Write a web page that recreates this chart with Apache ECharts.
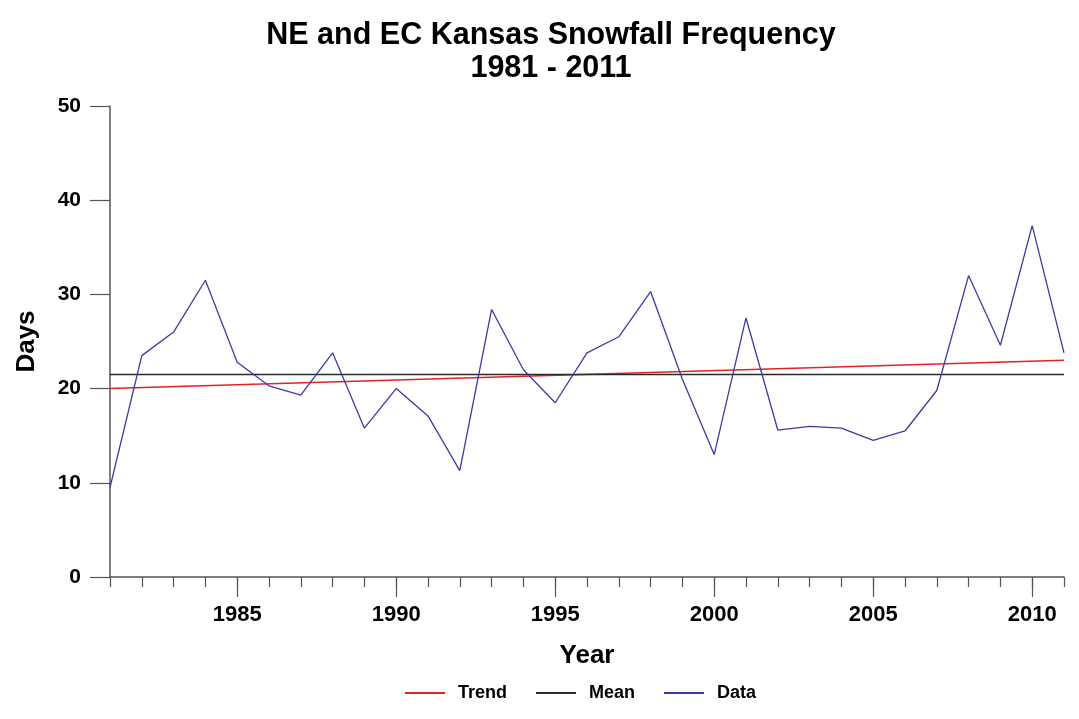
<!DOCTYPE html>
<html>
<head>
<meta charset="utf-8">
<script src="https://cdn.jsdelivr.net/npm/echarts@6/dist/echarts.min.js"></script>
<style>html,body{margin:0;padding:0;background:#fff}#c{width:1079px;height:719px}</style>
</head>
<body>
<div id="c"></div>
<script>
const years = ['1981','1982','1983','1984','1985','1986','1987','1988','1989','1990','1991','1992','1993','1994','1995','1996','1997','1998','1999','2000','2001','2002','2003','2004','2005','2006','2007','2008','2009','2010','2011'];
const snowDays = [9.5,23.5,26,31.5,22.8,20.3,19.3,23.8,15.8,20,17.1,11.3,28.4,22,18.5,23.8,25.5,30.3,21,13,27.5,15.6,16,15.8,14.5,15.5,19.8,32,24.6,37.3,23.8];
const meanValue = 21.5;
const trendStart = 20.0;
const trendEnd = 23.0;
const yTicks = [0,10,20,30,40,50];
const titleLines = ['NE and EC Kansas Snowfall Frequency','1981 - 2011'];

const FONT = "'Liberation Sans', Arial, Helvetica, sans-serif";
const chart = echarts.init(document.getElementById('c'), null, {renderer:'canvas'});
const axisGray = '#555555';
const firstYear = years[0], lastYear = years[years.length-1];

chart.setOption({
  backgroundColor:'#ffffff',
  animation:false,
  graphic:[
    {type:'text',x:551,y:36,style:{text:titleLines[0],align:'center',verticalAlign:'middle',
      font:"bold 30.5px 'Liberation Sans', Arial, sans-serif",fill:'#000'}},
    {type:'text',x:551,y:69,style:{text:titleLines[1],align:'center',verticalAlign:'middle',
      font:"bold 30.5px 'Liberation Sans', Arial, sans-serif",fill:'#000'}}
  ],
  legend:{
    left:405, top:684, padding:0,
    icon:'rect', itemWidth:40, itemHeight:2, itemGap:29,
    textStyle:{fontFamily:FONT,fontWeight:'bold',fontSize:18,color:'#000',padding:[0,0,0,8]},
    data:['Trend','Mean','Data']
  },
  grid:[
    {left:110,right:15,top:106,bottom:142,containLabel:false},
    {left:110,right:15,top:106,bottom:142,containLabel:false}
  ],
  xAxis:[
    {type:'category',gridIndex:0,data:years,boundaryGap:false,
     axisLine:{show:true,lineStyle:{color:axisGray,width:1.5}},
     axisTick:{show:true,inside:false,length:10,interval:0,lineStyle:{color:axisGray,width:1.2}},
     axisLabel:{show:false},splitLine:{show:false}},
    {type:'category',gridIndex:1,data:years,boundaryGap:false,
     name:'Year',nameLocation:'middle',nameGap:66,
     nameTextStyle:{fontFamily:FONT,fontWeight:'bold',fontSize:26,color:'#000'},
     axisLine:{show:false},
     axisTick:{show:true,length:20,interval:function(i,v){return (+v)%5===0;},lineStyle:{color:axisGray,width:1.2}},
     axisLabel:{show:true,margin:27,interval:function(i,v){return (+v)%5===0;},
       fontFamily:FONT,fontWeight:'bold',fontSize:22,color:'#000'},
     splitLine:{show:false}}
  ],
  yAxis:[
    {type:'value',gridIndex:0,min:yTicks[0],max:yTicks[yTicks.length-1],interval:10,
     name:'Days',nameLocation:'middle',nameGap:70,nameRotate:90,
     nameTextStyle:{fontFamily:FONT,fontWeight:'bold',fontSize:26,color:'#000'},
     axisLine:{show:true,lineStyle:{color:axisGray,width:1.5}},
     axisTick:{show:true,length:20,lineStyle:{color:axisGray,width:1.2}},
     axisLabel:{margin:29,fontFamily:FONT,fontWeight:'bold',fontSize:21,color:'#000'},
     splitLine:{show:false}},
    {type:'value',gridIndex:1,min:0,max:50,show:false}
  ],
  series:[
    {name:'Trend',type:'line',xAxisIndex:0,yAxisIndex:0,showSymbol:false,symbol:'none',
     data:[[firstYear,trendStart],[lastYear,trendEnd]],
     itemStyle:{color:'#e02424'},lineStyle:{color:'#e02424',width:1.5}},
    {name:'Mean',type:'line',xAxisIndex:0,yAxisIndex:0,showSymbol:false,symbol:'none',
     data:[[firstYear,meanValue],[lastYear,meanValue]],
     itemStyle:{color:'#2a2a2a'},lineStyle:{color:'#2a2a2a',width:1.5}},
    {name:'Data',type:'line',xAxisIndex:0,yAxisIndex:0,showSymbol:false,symbol:'none',
     data:snowDays,
     itemStyle:{color:'#3b3ba6'},lineStyle:{color:'#3b3ba6',width:1.3}}
  ]
});
</script>
</body>
</html>
